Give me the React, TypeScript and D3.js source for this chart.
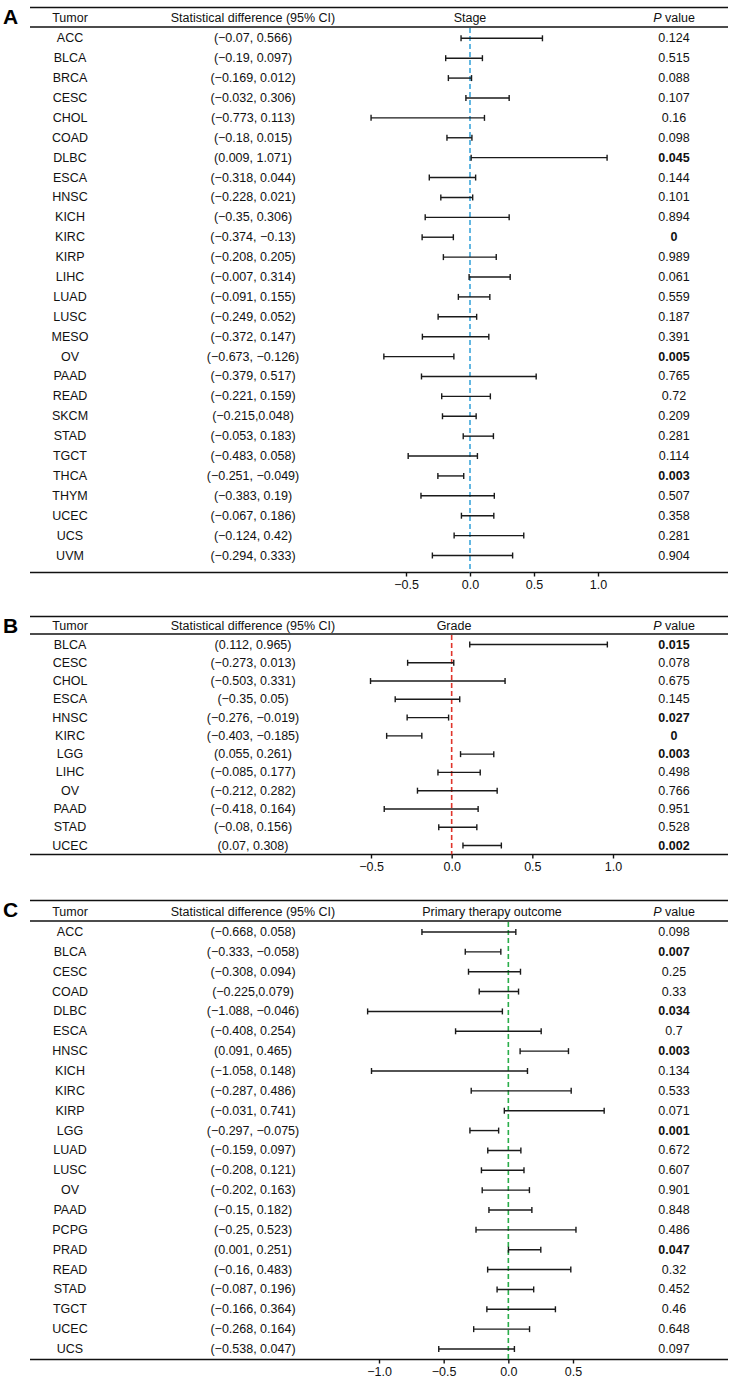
import React, { useEffect, useRef } from "react";
import * as d3 from "d3";

// ---- data ----
const stageTumors = ["ACC", "BLCA", "BRCA", "CESC", "CHOL", "COAD", "DLBC", "ESCA", "HNSC", "KICH", "KIRC", "KIRP", "LIHC", "LUAD", "LUSC", "MESO", "OV", "PAAD", "READ", "SKCM", "STAD", "TGCT", "THCA", "THYM", "UCEC", "UCS", "UVM"];
const stageLow = [-0.07, -0.19, -0.169, -0.032, -0.773, -0.18, 0.009, -0.318, -0.228, -0.35, -0.374, -0.208, -0.007, -0.091, -0.249, -0.372, -0.673, -0.379, -0.221, -0.215, -0.053, -0.483, -0.251, -0.383, -0.067, -0.124, -0.294];
const stageHigh = [0.566, 0.097, 0.012, 0.306, 0.113, 0.015, 1.071, 0.044, 0.021, 0.306, -0.13, 0.205, 0.314, 0.155, 0.052, 0.147, -0.126, 0.517, 0.159, 0.048, 0.183, 0.058, -0.049, 0.19, 0.186, 0.42, 0.333];
const stageP = [0.124, 0.515, 0.088, 0.107, 0.16, 0.098, 0.045, 0.144, 0.101, 0.894, 0, 0.989, 0.061, 0.559, 0.187, 0.391, 0.005, 0.765, 0.72, 0.209, 0.281, 0.114, 0.003, 0.507, 0.358, 0.281, 0.904];

const gradeTumors = ["BLCA", "CESC", "CHOL", "ESCA", "HNSC", "KIRC", "LGG", "LIHC", "OV", "PAAD", "STAD", "UCEC"];
const gradeLow = [0.112, -0.273, -0.503, -0.35, -0.276, -0.403, 0.055, -0.085, -0.212, -0.418, -0.08, 0.07];
const gradeHigh = [0.965, 0.013, 0.331, 0.05, -0.019, -0.185, 0.261, 0.177, 0.282, 0.164, 0.156, 0.308];
const gradeP = [0.015, 0.078, 0.675, 0.145, 0.027, 0, 0.003, 0.498, 0.766, 0.951, 0.528, 0.002];

const therapyTumors = ["ACC", "BLCA", "CESC", "COAD", "DLBC", "ESCA", "HNSC", "KICH", "KIRC", "KIRP", "LGG", "LUAD", "LUSC", "OV", "PAAD", "PCPG", "PRAD", "READ", "STAD", "TGCT", "UCEC", "UCS"];
const therapyLow = [-0.668, -0.333, -0.308, -0.225, -1.088, -0.408, 0.091, -1.058, -0.287, -0.031, -0.297, -0.159, -0.208, -0.202, -0.15, -0.25, 0.001, -0.16, -0.087, -0.166, -0.268, -0.538];
const therapyHigh = [0.058, -0.058, 0.094, 0.079, -0.046, 0.254, 0.465, 0.148, 0.486, 0.741, -0.075, 0.097, 0.121, 0.163, 0.182, 0.523, 0.251, 0.483, 0.196, 0.364, 0.164, 0.047];
const therapyP = [0.098, 0.007, 0.25, 0.33, 0.034, 0.7, 0.003, 0.134, 0.533, 0.071, 0.001, 0.672, 0.607, 0.901, 0.848, 0.486, 0.047, 0.32, 0.452, 0.46, 0.648, 0.097];

const axisTicks = [-1.0, -0.5, 0, 0.5, 1.0];

// rows whose CI label is printed without a space after the comma
const tightLabels = { Stage: ["SKCM"], Grade: [] as string[], "Primary therapy outcome": ["COAD"] };

const FONT = "'Liberation Sans', Arial, sans-serif";

function fmt(v: number) {
  return String(v).replace("-", "\u2212");
}

function drawPanel(svg: any, cfg: any) {
  const g = svg.append("g");
  const n = cfg.tumors.length;

  const x = d3.scaleLinear().domain(cfg.xDomain).range(cfg.xRange);
  const y = d3.scaleLinear().domain([0, n - 1]).range([cfg.firstRow, cfg.lastRow]);

  // panel letter
  g.append("text")
    .attr("x", 3)
    .attr("y", cfg.top + 16)
    .attr("font-family", FONT)
    .attr("font-weight", "bold")
    .attr("font-size", 21)
    .text(cfg.letter);

  // table rules
  [cfg.top, cfg.headLine, cfg.axisY].forEach((ly: number) => {
    g.append("line")
      .attr("x1", 30)
      .attr("x2", 728)
      .attr("y1", ly)
      .attr("y2", ly)
      .attr("stroke", "#111")
      .attr("stroke-width", 1.4);
  });

  // header
  const headY = (cfg.top + cfg.headLine) / 2 + 1;
  const head = g.append("g")
    .attr("font-family", FONT)
    .attr("font-size", 12.5)
    .attr("text-anchor", "middle")
    .attr("fill", "#111");
  head.append("text").attr("x", 70).attr("y", headY).attr("dominant-baseline", "central").text("Tumor");
  head.append("text").attr("x", 253).attr("y", headY).attr("dominant-baseline", "central").text("Statistical difference (95% CI)");
  head.append("text").attr("x", cfg.titleX).attr("y", headY).attr("dominant-baseline", "central").text(cfg.title);
  const pv = head.append("text").attr("x", 674).attr("y", headY).attr("dominant-baseline", "central");
  pv.append("tspan").attr("font-style", "italic").text("P");
  pv.append("tspan").text(" value");

  // reference line at zero
  g.append("line")
    .attr("x1", x(0))
    .attr("x2", x(0))
    .attr("y1", cfg.headLine + 1)
    .attr("y2", cfg.axisY)
    .attr("stroke", cfg.color)
    .attr("stroke-width", 1.6)
    .attr("stroke-dasharray", "5,3");

  const idx = d3.range(n);
  const tight: string[] = cfg.tight;

  // rows text
  const rows = g.append("g")
    .attr("font-family", FONT)
    .attr("font-size", 12.5)
    .attr("text-anchor", "middle")
    .attr("fill", "#111");
  rows.selectAll("text.name")
    .data(idx)
    .enter()
    .append("text")
    .attr("class", "name")
    .attr("x", 70)
    .attr("y", (i: number) => y(i))
    .attr("dominant-baseline", "central")
    .text((i: number) => cfg.tumors[i]);
  rows.selectAll("text.ci")
    .data(idx)
    .enter()
    .append("text")
    .attr("class", "ci")
    .attr("x", 253)
    .attr("y", (i: number) => y(i))
    .attr("dominant-baseline", "central")
    .text((i: number) =>
      "(" + fmt(cfg.low[i]) + (tight.includes(cfg.tumors[i]) ? "," : ", ") + fmt(cfg.high[i]) + ")"
    );
  rows.selectAll("text.p")
    .data(idx)
    .enter()
    .append("text")
    .attr("class", "p")
    .attr("x", 674)
    .attr("y", (i: number) => y(i))
    .attr("dominant-baseline", "central")
    .attr("font-weight", (i: number) => (cfg.p[i] < 0.05 ? "bold" : "normal"))
    .text((i: number) => String(cfg.p[i]));

  // error bars
  const bars = g.append("g").attr("stroke", "#1a1a1a").attr("stroke-width", 1.4);
  idx.forEach((i: number) => {
    const yy = y(i);
    bars.append("line").attr("x1", x(cfg.low[i])).attr("x2", x(cfg.high[i])).attr("y1", yy).attr("y2", yy);
    bars.append("line").attr("x1", x(cfg.low[i])).attr("x2", x(cfg.low[i])).attr("y1", yy - 3).attr("y2", yy + 3);
    bars.append("line").attr("x1", x(cfg.high[i])).attr("x2", x(cfg.high[i])).attr("y1", yy - 3).attr("y2", yy + 3);
  });

  // x axis
  const ticks = axisTicks.filter((t) => t >= cfg.xDomain[0] && t <= cfg.xDomain[1]);
  const ax = g.append("g")
    .attr("transform", "translate(0," + cfg.axisY + ")")
    .call(
      d3.axisBottom(x)
        .tickValues(ticks)
        .tickFormat(d3.format(".1f") as any)
        .tickSizeInner(4)
        .tickSizeOuter(0)
        .tickPadding(4)
    );
  ax.select(".domain").remove();
  ax.selectAll("line").attr("stroke", "#111").attr("stroke-width", 1.4);
  ax.selectAll("text").attr("font-family", FONT).attr("font-size", 12.5).attr("fill", "#111");
}

export default function App() {
  const ref = useRef<SVGSVGElement>(null);

  useEffect(() => {
    const svg = d3.select(ref.current);
    svg.selectAll("*").remove();

    drawPanel(svg, {
      letter: "A", title: "Stage", titleX: 470, color: "#3ca6db",
      tumors: stageTumors, low: stageLow, high: stageHigh, p: stageP, tight: tightLabels.Stage,
      top: 7.5, headLine: 27, firstRow: 38.3, lastRow: 555.5, axisY: 572.5,
      xDomain: [-0.5, 1.0], xRange: [406, 598],
    });
    drawPanel(svg, {
      letter: "B", title: "Grade", titleX: 454, color: "#e0352b",
      tumors: gradeTumors, low: gradeLow, high: gradeHigh, p: gradeP, tight: tightLabels.Grade,
      top: 616.5, headLine: 634, firstRow: 644.5, lastRow: 845.5, axisY: 854.5,
      xDomain: [-0.5, 1.0], xRange: [371, 613],
    });
    drawPanel(svg, {
      letter: "C", title: "Primary therapy outcome", titleX: 492, color: "#2aae4a",
      tumors: therapyTumors, low: therapyLow, high: therapyHigh, p: therapyP, tight: tightLabels["Primary therapy outcome"],
      top: 900.5, headLine: 921, firstRow: 932, lastRow: 1349, axisY: 1359.5,
      xDomain: [-1.0, 0.5], xRange: [379, 573],
    });
  }, []);

  return (
    <svg
      ref={ref}
      width={740}
      height={1382}
      style={{ position: "absolute", left: 0, top: 0, background: "#fff" }}
    />
  );
}
